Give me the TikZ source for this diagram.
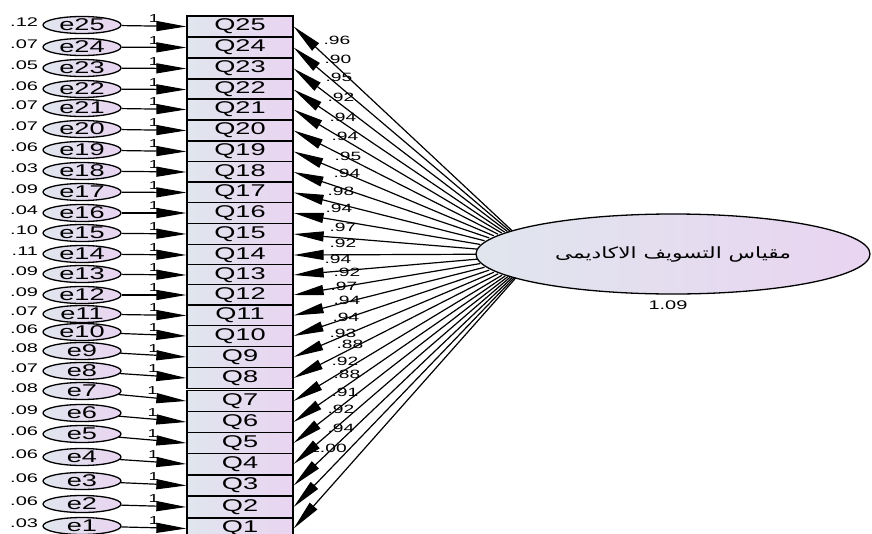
\documentclass[tikz,border=0pt]{standalone}
\usepackage{graphicx}
\usepackage{fontspec}
\setmainfont{Liberation Sans}[FakeStretch=1.6]
\newfontfamily\arabicfont[Script=Arabic]{DejaVu Sans}
\TeXXeTstate=1
\usetikzlibrary{shapes.geometric,arrows.meta}
\definecolor{fillleft}{HTML}{E0E6EE}
\definecolor{fillright}{HTML}{E9D4F1}
\tikzset{
  item/.style={draw,line width=1.3pt,left color=fillleft,right color=fillright,
    minimum width=106pt,minimum height=21pt,inner sep=0pt,font=\fontsize{17}{17}\selectfont},
  err/.style={ellipse,draw,line width=1.3pt,left color=fillleft,right color=fillright,
    minimum width=78pt,minimum height=17pt,inner sep=0pt,font=\fontsize{17}{17}\selectfont},
  factor/.style={ellipse,draw,line width=1.3pt,left color=fillleft,right color=fillright,
    minimum width=394pt,minimum height=80pt,inner sep=0pt},
  reg/.style={line width=1.2pt,-{Triangle[length=30pt,width=10pt]}},
  est/.style={inner sep=0.75pt,font=\fontsize{12}{12}\selectfont},
  fixlabel/.style={pos=0.5,above,inner sep=2.5pt,font=\fontsize{11.5}{12}\selectfont}
}
\begin{document}
\begin{tikzpicture}[x=1pt,y=-1pt]
\useasboundingbox (0,0) rectangle (872,533);
% latent variable, the loadings leave its left end
\node (F) [factor] at (673,254) {\scalebox{1.4}[1]{\fontsize{15.5}{16}\selectfont\arabicfont\beginR مقياس التسويف الاكاديمى\endR}};
\node (Fhub) [ellipse,minimum width=122pt,minimum height=51pt,inner sep=0pt] at (537,254) {};
\node (Fvar) [est,font=\fontsize{12.5}{13}\selectfont] at (668,305) {1.09};
% items with their error terms
\foreach \i/\y/\ey/\v in {25/26.5/25/.12, 24/47.5/47/.07, 23/68.5/68/.05, 22/89.5/89/.06,
    21/109.5/108/.07, 20/130.5/129/.07, 19/151.5/150/.06, 18/172/171/.03,
    17/192.5/192/.09, 16/213/213/.04, 15/234/233/.10, 14/255/254/.11,
    13/275/274/.09, 12/295/295/.09, 11/315.5/314/.07, 10/336/332/.06,
    9/357/351/.08, 8/378/371/.07, 7/401/391/.08, 6/422/413/.09,
    5/443/434/.06, 4/464/457/.06, 3/485.5/481/.06, 2/507/504/.06, 1/528.5/526/.03}{
  \node (Q\i) [item] at (240,\y) {Q\i};
  \node (e\i) [err] at (82,\ey) {e\i};
  \node (v\i) [est,anchor=east,font=\fontsize{12.5}{13}\selectfont] at (39,\ey-3) {\v};
  \draw [reg] (e\i) -- node[fixlabel] {1} (Q\i.west);
}
% loadings
\foreach \i/\x/\y/\l in {25/337/40/.96, 24/338/59/.90, 23/339/77/.95, 22/341/97/.92,
    21/343/117/.94, 20/345/136/.94, 19/348/156/.95, 18/347/173/.94,
    17/341/191/.98, 16/339/208/.94, 15/343/227/.97, 14/343/243/.92,
    13/338/259/.94, 12/347/272/.92, 11/344/286/.97, 10/347/300/.94,
    9/346/317/.94, 8/343/333/.93, 7/350/344/.88, 6/345/361/.92,
    5/347/374/.88, 4/345/392/.91, 3/341/409/.92, 2/341/428/.94, 1/328/448/1.00}{
  \draw [reg] (Fhub) -- (Q\i.east);
  \node (l\i) [est] at (\x,\y) {\l};
}
\end{tikzpicture}
\end{document}
